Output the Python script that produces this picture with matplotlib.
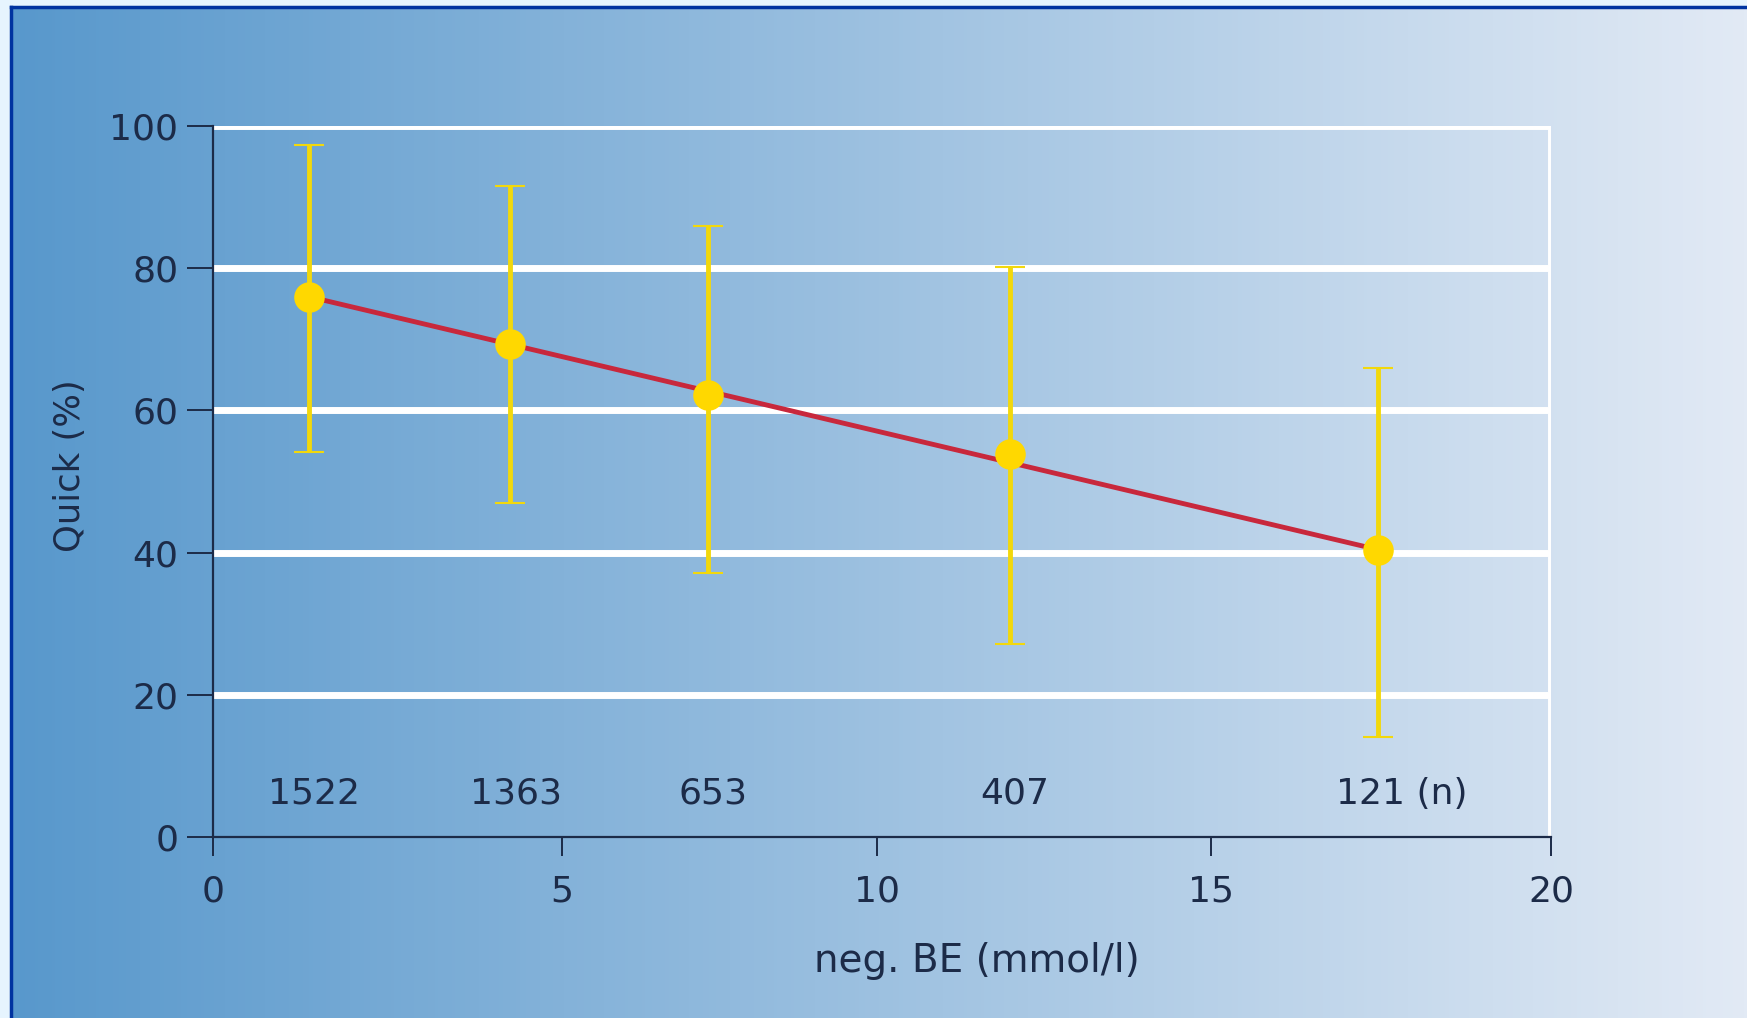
import numpy as np
import matplotlib.pyplot as plt
from matplotlib.lines import Line2D

# values
be_mean = [1.37, 4.26, 7.33, 11.99, 17.46]
quick_mean = [76.0, 69.4, 62.1, 53.9, 40.4]
quick_upper = [97.3, 91.5, 85.9, 80.1, 66.0]
quick_lower = [54.2, 47.0, 37.1, 27.1, 14.1]
n_labels = ['1522', '1363', '653', '407', '121 (n)']
fit_x = [1.37, 17.46]
fit_y = [76.0, 40.4]
x_ticks = [0, 5, 10, 15, 20]
y_ticks = [0, 20, 40, 60, 80, 100]

TEXT = '#1c2b48'
plt.rcParams['font.family'] = ['DejaVu Sans']

W, H = 1747, 1018
fig = plt.figure(figsize=(W / 100, H / 100), dpi=100, facecolor='#e6f4fe')

# gradient background inside the frame
bx, by = 11 / W, 7 / H
bg = fig.add_axes([bx, 0, 1 - bx, 1 - by], zorder=0)
left_c = np.array([88, 152, 204]) / 255
right_c = np.array([226, 234, 245]) / 255
t = np.linspace(0, 1, 512)[None, :, None]
grad = left_c + (right_c - left_c) * t
bg.imshow(grad, aspect='auto', extent=[0, 1, 0, 1])
bg.set_axis_off()

# blue frame on top and left
fig.add_artist(Line2D([bx, 1], [1 - by, 1 - by], transform=fig.transFigure,
                      color='#0033a0', lw=2.5, zorder=5))
fig.add_artist(Line2D([bx, bx], [0, 1 - by], transform=fig.transFigure,
                      color='#0033a0', lw=2.5, zorder=5))

ax = fig.add_axes([213 / W, 1 - 837 / H, (1551 - 213) / W, (837 - 126) / H], zorder=1)
ax.patch.set_alpha(0)

# the original x axis is not evenly spaced: piecewise linear scale
knots_val = np.array([0, 5, 10, 15, 20], dtype=float)
knots_pos = np.array([0, 349, 664, 999, 1339], dtype=float) / 1339 * 20
ax.set_xscale('function', functions=(lambda v: np.interp(v, knots_val, knots_pos),
                                     lambda p: np.interp(p, knots_pos, knots_val)))
ax.set_xlim(0, 20)
ax.set_ylim(0, 100)

for y in y_ticks[1:]:
    ax.axhline(y, color='white', lw=5, zorder=1)
ax.axvline(20, color='white', lw=5, zorder=1)

ax.plot(fit_x, fit_y, color='#c8283c', lw=3.5, zorder=3, solid_capstyle='butt')

yerr = [np.array(quick_mean) - np.array(quick_lower),
        np.array(quick_upper) - np.array(quick_mean)]
eb = ax.errorbar(be_mean, quick_mean, yerr=yerr, fmt='none', ecolor='#f2d80c',
                 elinewidth=3.5, capsize=11, capthick=1.5, zorder=2)
for cap in eb[1]:
    cap.set_color('#dfe06a')
ax.plot(be_mean, quick_mean, 'o', color='#ffd800', markersize=22, zorder=4,
        markeredgewidth=0)

for x, lab in zip(be_mean, n_labels):
    if '(n)' in lab:
        ax.text(x - 0.62, 4.7, lab, ha='left', va='baseline', fontsize=26, color=TEXT)
    else:
        ax.text(x + 0.08, 4.7, lab, ha='center', va='baseline', fontsize=26, color=TEXT)

for side in ['top', 'right']:
    ax.spines[side].set_visible(False)
for side in ['left', 'bottom']:
    ax.spines[side].set_color(TEXT)
    ax.spines[side].set_linewidth(1.6)
    ax.spines[side].set_zorder(5)

ax.set_xticks(x_ticks)
ax.set_xticklabels([str(v) for v in x_ticks])
ax.set_yticks(y_ticks)
ax.tick_params(axis='x', length=14, width=1.4, color=TEXT, labelcolor=TEXT,
               labelsize=26, pad=13)
ax.tick_params(axis='y', length=19, width=1.4, color=TEXT, labelcolor=TEXT,
               labelsize=26, pad=6)

fig.text(977 / W, 1 - 972 / H, 'neg. BE (mmol/l)', ha='center', va='baseline',
         fontsize=28, color=TEXT)
fig.text(70 / W, 1 - 466 / H, 'Quick (%)', ha='center', va='center',
         rotation=90, fontsize=25.5, color=TEXT)

fig.savefig('out.png', dpi=100, facecolor=fig.get_facecolor())
